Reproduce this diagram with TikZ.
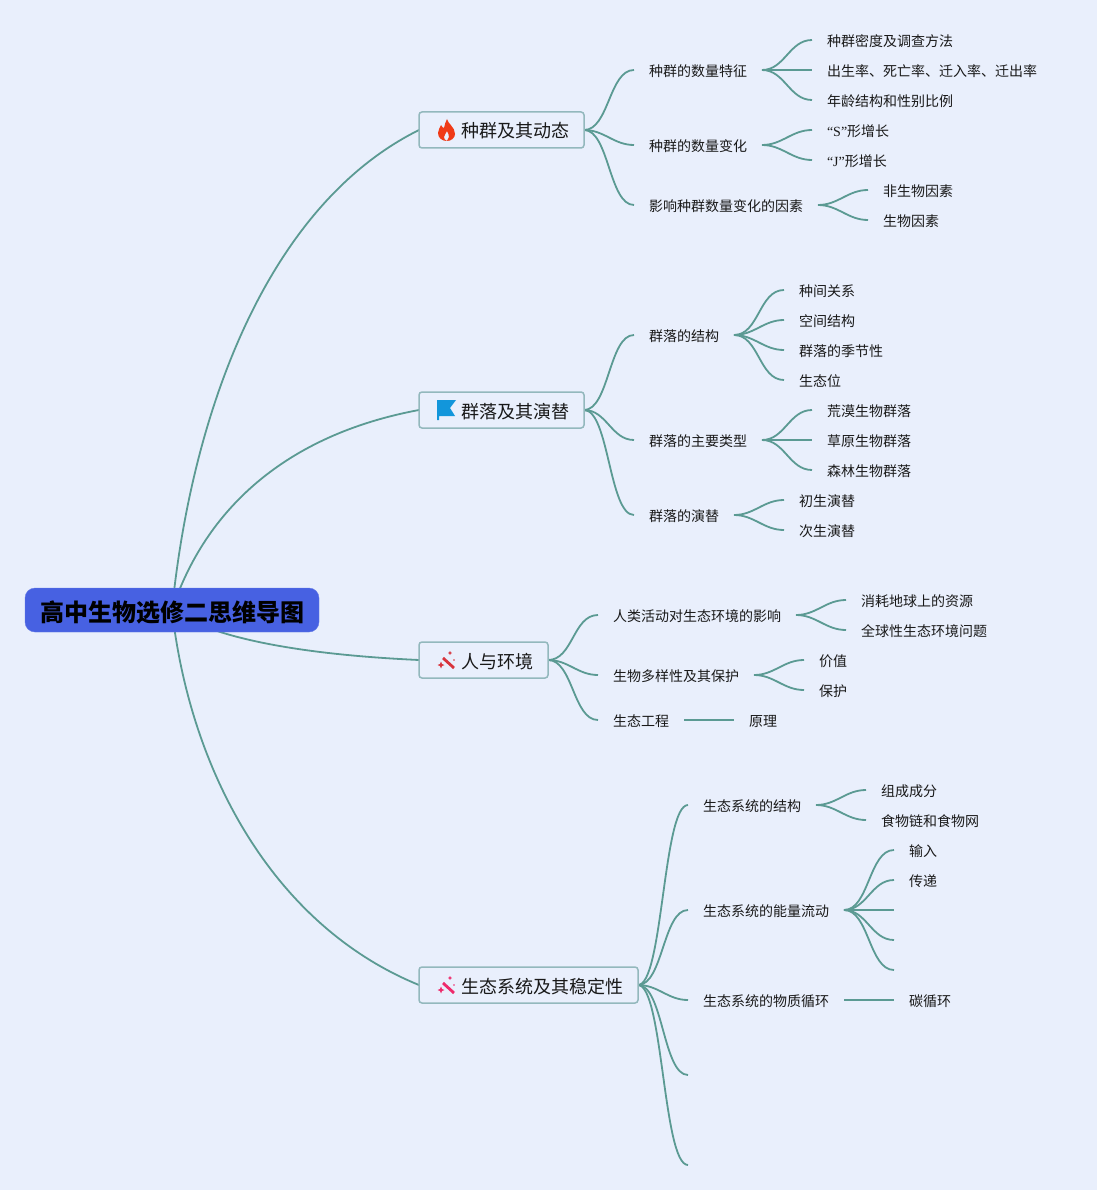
\documentclass[tikz,border=0pt]{standalone}
\usepackage{fontspec}
\setmainfont{Noto Sans CJK SC}
\newfontfamily\quotefont{Liberation Serif}
\usetikzlibrary{backgrounds}
\definecolor{pageBg}{HTML}{E9EFFC}
\definecolor{lineTeal}{HTML}{5B9A93}
\definecolor{boxEdge}{HTML}{93B8BD}
\definecolor{rootBlue}{HTML}{4761E2}
\definecolor{flameRed}{HTML}{F03A17}
\definecolor{flagBlue}{HTML}{1296DB}
\definecolor{wandRed}{HTML}{D8333C}
\definecolor{wandPink}{HTML}{EE2A6B}
\tikzstyle{rootBox} = [rectangle, rounded corners=10pt, minimum width=294pt, minimum height=44pt, inner sep=0pt, outer sep=0pt, fill=rootBlue, draw=rootBlue!85!white, text height=22pt, text depth=0pt, font=\fontsize{24}{28}\selectfont\bfseries, text=black]
\tikzstyle{topicBox} = [rectangle, rounded corners=3pt, anchor=west, minimum height=36pt, inner xsep=15pt, inner ysep=0pt, outer sep=0pt, fill=pageBg, draw=boxEdge, line width=1.5pt, text height=16pt, text depth=0pt, font=\fontsize{18}{22}\selectfont, text=black!90]
\tikzstyle{leaf} = [anchor=west, inner xsep=15pt, inner ysep=0pt, outer sep=0pt, text height=12.5pt, text depth=0pt, font=\fontsize{14}{17}\selectfont, text=black!90]
\tikzstyle{branch} = [line width=1.8pt, draw=lineTeal]
\tikzstyle{fork} = [branch, out=0, in=180, max distance=25pt]
\newcommand{\wandIcon}[3]{
	\begin{scope}[shift={(#1,#2)}]
		\draw [#3, line width=2.8pt] (-4,-3) -- (7,7);
		\fill [#3] (-6,0.5) -- (-5,3) -- (-2.5,4) -- (-5,5) -- (-6,7.5) -- (-7,5) -- (-9.5,4) -- (-7,3) -- cycle;
		\fill [#3] (3,-10) -- (3.7,-8.7) -- (5,-8) -- (3.7,-7.3) -- (3,-6) -- (2.3,-7.3) -- (1,-8) -- (2.3,-8.7) -- cycle;
		\fill [#3] (7,-1) circle (0.9);
	\end{scope}
}
\begin{document}
\begin{tikzpicture}[x=1pt, y=-1pt]
	\useasboundingbox (0,0) rectangle (1097,1190);
	\node (root) [rootBox] at (172,610) {高中生物选修二思维导图};

	\node (pop) [topicBox] at (419,130) {\hspace{27pt}种群及其动态};
	\node (popNum) [leaf] at (634,70) {种群的数量特征};
	\node (popDensity) [leaf] at (812,40) {种群密度及调查方法};
	\node (popRate) [leaf] at (812,70) {出生率、死亡率、迁入率、迁出率};
	\node (popAge) [leaf] at (812,100) {年龄结构和性别比例};
	\node (popChange) [leaf] at (634,145) {种群的数量变化};
	\node (popS) [leaf] at (812,130) {{\quotefont “S”}形增长};
	\node (popJ) [leaf] at (812,160) {{\quotefont “J”}形增长};
	\node (popFactor) [leaf] at (634,205) {影响种群数量变化的因素};
	\node (popAbio) [leaf] at (868,190) {非生物因素};
	\node (popBio) [leaf] at (868,220) {生物因素};

	\node (com) [topicBox] at (419,410) {\hspace{27pt}群落及其演替};
	\node (comStruct) [leaf] at (634,335) {群落的结构};
	\node (comRel) [leaf] at (784,290) {种间关系};
	\node (comSpace) [leaf] at (784,320) {空间结构};
	\node (comSeason) [leaf] at (784,350) {群落的季节性};
	\node (comNiche) [leaf] at (784,380) {生态位};
	\node (comType) [leaf] at (634,440) {群落的主要类型};
	\node (comDesert) [leaf] at (812,410) {荒漠生物群落};
	\node (comGrass) [leaf] at (812,440) {草原生物群落};
	\node (comForest) [leaf] at (812,470) {森林生物群落};
	\node (comSucc) [leaf] at (634,515) {群落的演替};
	\node (comFirst) [leaf] at (784,500) {初生演替};
	\node (comSecond) [leaf] at (784,530) {次生演替};

	\node (env) [topicBox] at (419,660) {\hspace{27pt}人与环境};
	\node (envHuman) [leaf] at (598,615) {人类活动对生态环境的影响};
	\node (envRes) [leaf] at (846,600) {消耗地球上的资源};
	\node (envGlobal) [leaf] at (846,630) {全球性生态环境问题};
	\node (envDiv) [leaf] at (598,675) {生物多样性及其保护};
	\node (envValue) [leaf] at (804,660) {价值};
	\node (envProtect) [leaf] at (804,690) {保护};
	\node (envEng) [leaf] at (598,720) {生态工程};
	\node (envRule) [leaf] at (734,720) {原理};

	\node (eco) [topicBox] at (419,985) {\hspace{27pt}生态系统及其稳定性};
	\node (ecoStruct) [leaf] at (688,805) {生态系统的结构};
	\node (ecoPart) [leaf] at (866,790) {组成成分};
	\node (ecoWeb) [leaf] at (866,820) {食物链和食物网};
	\node (ecoEnergy) [leaf] at (688,910) {生态系统的能量流动};
	\node (ecoIn) [leaf] at (894,850) {输入};
	\node (ecoPass) [leaf] at (894,880) {传递};
	\coordinate (ecoEmptyA) at (894,910);
	\coordinate (ecoEmptyB) at (894,940);
	\coordinate (ecoEmptyC) at (894,970);
	\node (ecoCycle) [leaf] at (688,1000) {生态系统的物质循环};
	\node (ecoCarbon) [leaf] at (894,1000) {碳循环};
	\coordinate (ecoEmptyD) at (688,1075);
	\coordinate (ecoEmptyE) at (688,1165);

	\fill [flameRed, even odd rule] (447,119) .. controls (448,124) and (455,127) .. (455,134) .. controls (455,138) and (451,141) .. (447,141) .. controls (442,141) and (438,138) .. (438,133) .. controls (438,130) and (440,128) .. (441,125) .. controls (442,127) and (443,128) .. (444,128) .. controls (445,125) and (445,122) .. (447,119) -- cycle
		(447,141) .. controls (449,139) and (450,136) .. (447,131) .. controls (446,134) and (444,135) .. (444,137) .. controls (444,139) and (445,140) .. (447,141) -- cycle;
	\fill [flagBlue] (437,400) -- (456,400) -- (450,408) -- (455,416) -- (439,416) -- (439,420) -- (437,420) -- cycle;
	\wandIcon{447}{661}{wandRed}
	\wandIcon{447}{986}{wandPink}

	\begin{scope}[on background layer]
		\fill [pageBg] (0,0) rectangle (1097,1190);
		\draw [branch] (root.center) .. controls (192,410) and (268,205) .. (pop.west);
		\draw [branch] (root.center) .. controls (205,510) and (285,435) .. (com.west);
		\draw [branch] (root.center) .. controls (215,640) and (310,655) .. (env.west);
		\draw [branch] (root.center) .. controls (190,770) and (272,925) .. (eco.west);

		\draw [fork] (pop.east) to (popNum.west);
		\draw [fork] (pop.east) to (popChange.west);
		\draw [fork] (pop.east) to (popFactor.west);
		\draw [fork] (popNum.east) to (popDensity.west);
		\draw [fork] (popNum.east) to (popRate.west);
		\draw [fork] (popNum.east) to (popAge.west);
		\draw [fork] (popChange.east) to (popS.west);
		\draw [fork] (popChange.east) to (popJ.west);
		\draw [fork] (popFactor.east) to (popAbio.west);
		\draw [fork] (popFactor.east) to (popBio.west);

		\draw [fork] (com.east) to (comStruct.west);
		\draw [fork] (com.east) to (comType.west);
		\draw [fork] (com.east) to (comSucc.west);
		\draw [fork] (comStruct.east) to (comRel.west);
		\draw [fork] (comStruct.east) to (comSpace.west);
		\draw [fork] (comStruct.east) to (comSeason.west);
		\draw [fork] (comStruct.east) to (comNiche.west);
		\draw [fork] (comType.east) to (comDesert.west);
		\draw [fork] (comType.east) to (comGrass.west);
		\draw [fork] (comType.east) to (comForest.west);
		\draw [fork] (comSucc.east) to (comFirst.west);
		\draw [fork] (comSucc.east) to (comSecond.west);

		\draw [fork] (env.east) to (envHuman.west);
		\draw [fork] (env.east) to (envDiv.west);
		\draw [fork] (env.east) to (envEng.west);
		\draw [fork] (envHuman.east) to (envRes.west);
		\draw [fork] (envHuman.east) to (envGlobal.west);
		\draw [fork] (envDiv.east) to (envValue.west);
		\draw [fork] (envDiv.east) to (envProtect.west);
		\draw [branch] (envEng.east) -- (envRule.west);

		\draw [fork] (eco.east) to (ecoStruct.west);
		\draw [fork] (eco.east) to (ecoEnergy.west);
		\draw [fork] (eco.east) to (ecoCycle.west);
		\draw [fork] (eco.east) to (ecoEmptyD);
		\draw [fork] (eco.east) to (ecoEmptyE);
		\draw [fork] (ecoStruct.east) to (ecoPart.west);
		\draw [fork] (ecoStruct.east) to (ecoWeb.west);
		\draw [fork] (ecoEnergy.east) to (ecoIn.west);
		\draw [fork] (ecoEnergy.east) to (ecoPass.west);
		\draw [fork] (ecoEnergy.east) to (ecoEmptyA);
		\draw [fork] (ecoEnergy.east) to (ecoEmptyB);
		\draw [fork] (ecoEnergy.east) to (ecoEmptyC);
		\draw [branch] (ecoCycle.east) -- (ecoCarbon.west);
	\end{scope}
\end{tikzpicture}
\end{document}
